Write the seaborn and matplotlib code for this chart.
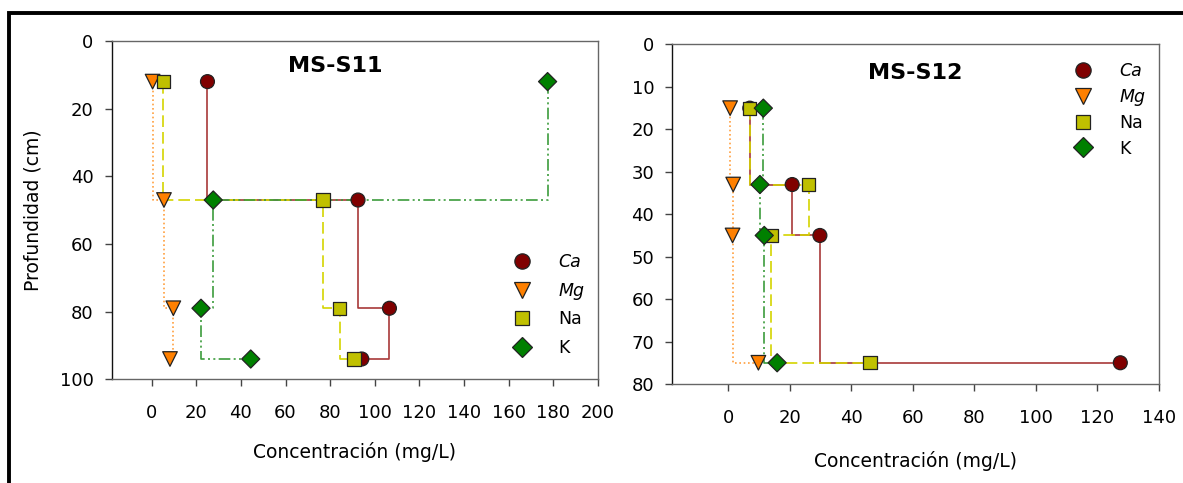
import matplotlib
matplotlib.use("Agg")
import matplotlib.pyplot as plt
from matplotlib.patches import Rectangle
import numpy as np
import pandas as pd
import seaborn as sns

# ---- data -------------------------------------------------------------
ions = ["Ca", "Mg", "Na", "K"]

# MS-S11 profile
depth_s11 = [12, 47, 79, 94]
ca_s11 = [25.0, 92.5, 106.6, 94.2]
mg_s11 = [0.4, 5.5, 9.7, 8.2]
na_s11 = [5.2, 76.8, 84.3, 90.7]
k_s11 = [177.5, 27.6, 22.1, 44.4]

# MS-S12 profile
depth_s12 = [15, 33, 45, 75]
ca_s12 = [7.0, 20.8, 29.8, 127.5]
mg_s12 = [0.6, 1.6, 1.4, 9.8]
na_s12 = [7.0, 26.2, 13.9, 46.1]
k_s12 = [11.4, 10.3, 11.7, 15.9]

x_ticks_s11 = [0, 20, 40, 60, 80, 100, 120, 140, 160, 180, 200]
y_ticks_s11 = [0, 20, 40, 60, 80, 100]
x_ticks_s12 = [0, 20, 40, 60, 80, 100, 120, 140]
y_ticks_s12 = [0, 10, 20, 30, 40, 50, 60, 70, 80]

# ---- styling ----------------------------------------------------------
marker_colors = {"Ca": "#800000", "Mg": "#FF8000", "Na": "#C0C000", "K": "#008000"}
line_colors = {"Ca": "#A83838", "Mg": "#FFA040", "Na": "#D4D400", "K": "#3C9C3C"}
line_dashes = {"Ca": (None, None), "Mg": (1, 1.6), "Na": (7, 3),
               "K": (7, 2, 1.2, 2, 1.2, 2)}
marker_shapes = {"Ca": "o", "Mg": "v", "Na": "s", "K": "D"}
marker_sizes = {"Ca": 100, "Mg": 110, "Na": 90, "K": 85}

sns.set_theme(style="white")
plt.rcParams["font.family"] = ["DejaVu Sans"]
plt.rcParams["text.color"] = "black"
plt.rcParams["axes.labelcolor"] = "black"

fig = plt.figure(figsize=(11.83, 4.83), dpi=100)
ax1 = fig.add_axes([0.0943, 0.2147, 0.4110, 0.7004])
ax2 = fig.add_axes([0.5683, 0.2050, 0.4112, 0.7029])


def long_table(depth, series):
    rows = []
    for ion, vals in zip(ions, series):
        for d, v in zip(depth, vals):
            rows.append({"ion": ion, "conc": v, "depth": d})
    return pd.DataFrame(rows)


def draw_profile(ax, df, title, xlim, ylim, xticks, yticks, title_pos,
                 legend_anchor, legend_spacing):
    # step lines: drop vertically to the next depth, then across
    for ion in ions:
        sub = df[df["ion"] == ion]
        dash = line_dashes[ion]
        kw = {}
        if dash != (None, None):
            kw["dashes"] = dash
        sns.lineplot(data=sub, x="conc", y="depth", ax=ax, sort=False,
                     estimator=None, color=line_colors[ion], lw=1.2,
                     drawstyle="steps-pre", legend=False, zorder=2, **kw)
    sns.scatterplot(data=df, x="conc", y="depth", hue="ion", style="ion",
                    hue_order=ions, style_order=ions, palette=marker_colors,
                    markers=marker_shapes, size="ion", sizes=marker_sizes,
                    size_order=ions, edgecolor="#222222", linewidth=0.9,
                    ax=ax, zorder=3, legend=True)

    ax.set_xlim(*xlim)
    ax.set_ylim(*ylim)
    ax.set_xticks(xticks)
    ax.set_yticks(yticks)
    ax.tick_params(axis="both", which="both", direction="out", length=5,
                   width=1, color="#444444", labelsize=13, labelcolor="black")
    ax.tick_params(axis="x", pad=13, bottom=True, top=False)
    ax.tick_params(axis="y", pad=8, left=True, right=False)
    for side, sp in ax.spines.items():
        sp.set_visible(True)
        sp.set_linewidth(1.0)
        sp.set_color("#666666")
    ax.spines["left"].set_color("#111111")
    ax.set_xlabel("Concentración (mg/L)", fontsize=13.5, labelpad=14)
    ax.set_ylabel("")
    ax.text(title_pos[0], title_pos[1], title, transform=ax.transAxes,
            ha="center", va="center", fontsize=16, fontweight="bold",
            color="black")

    sns.move_legend(ax, "upper left", bbox_to_anchor=legend_anchor,
                    frameon=False, title=None, fontsize=12.5,
                    borderaxespad=0, borderpad=0, labelspacing=legend_spacing,
                    handletextpad=1.5, handlelength=1.2)
    leg = ax.get_legend()
    for handle in leg.legend_handles:
        if hasattr(handle, "set_markersize"):
            handle.set_markersize(handle.get_markersize() * 1.1)
    for txt in leg.get_texts():
        txt.set_color("black")
        if txt.get_text() in ("Ca", "Mg"):
            txt.set_style("italic")


df11 = long_table(depth_s11, [ca_s11, mg_s11, na_s11, k_s11])
df12 = long_table(depth_s12, [ca_s12, mg_s12, na_s12, k_s12])

draw_profile(ax1, df11, "MS-S11", (-18, 200), (100, 0), x_ticks_s11,
             y_ticks_s11, (0.46, 0.925), (0.823, 0.372), 0.6)
draw_profile(ax2, df12, "MS-S12", (-18.2, 140), (80, 0), x_ticks_s12,
             y_ticks_s12, (0.50, 0.915), (0.823, 0.948), 0.45)

ax1.set_ylabel("Profundidad (cm)", fontsize=13.5, labelpad=12)
ax2.xaxis.labelpad = 17

# outer frame around the whole figure
fig.patches.append(Rectangle((0.0078, -0.2), 1.5, 0.9725 + 0.2,
                             transform=fig.transFigure, fill=False,
                             lw=2.8, edgecolor="black", zorder=10))

fig.savefig("out.png", dpi=100)
